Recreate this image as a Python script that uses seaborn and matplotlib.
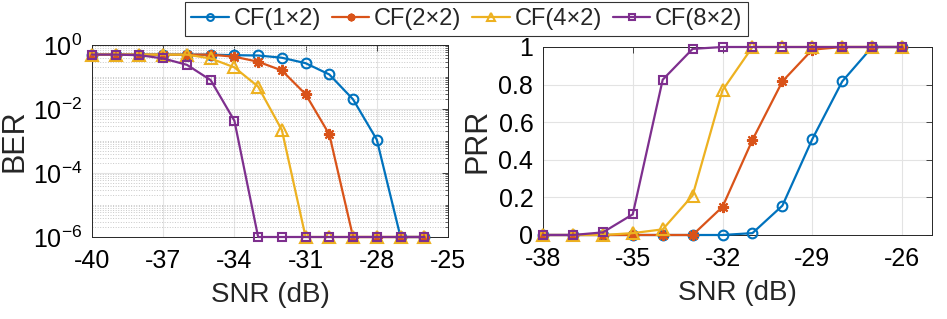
import numpy as np
import matplotlib
matplotlib.use('Agg')
import matplotlib.pyplot as plt
import seaborn as sns
from matplotlib.ticker import LogLocator, NullFormatter, FixedLocator

# Data
snr_ber = [-40, -39, -38, -37, -36, -35, -34, -33, -32, -31, -30, -29, -28, -27, -26]
ber_1x2 = [0.5, 0.5, 0.5, 0.5, 0.5, 0.5, 0.48, 0.47, 0.40, 0.27, 0.12, 0.020, 1.1e-3, 1e-6, 1e-6]
ber_2x2 = [0.5, 0.5, 0.5, 0.5, 0.5, 0.5, 0.43, 0.30, 0.16, 0.029, 1.6e-3, 1e-6, 1e-6, 1e-6, 1e-6]
ber_4x2 = [0.5, 0.5, 0.5, 0.5, 0.5, 0.38, 0.20, 0.05, 2.2e-3, 1e-6, 1e-6, 1e-6, 1e-6, 1e-6, 1e-6]
ber_8x2 = [0.5, 0.5, 0.48, 0.38, 0.24, 0.08, 4.3e-3, 1e-6, 1e-6, 1e-6, 1e-6, 1e-6, 1e-6, 1e-6, 1e-6]

snr_prr = [-38, -37, -36, -35, -34, -33, -32, -31, -30, -29, -28, -27, -26]
prr_1x2 = [0, 0, 0, 0, 0, 0, 0, 0.01, 0.156, 0.51, 0.817, 1.0, 1.0]
prr_2x2 = [0, 0, 0, 0, 0, 0, 0.15, 0.506, 0.817, 0.986, 1.0, 1.0, 1.0]
prr_4x2 = [0, 0, 0, 0.01, 0.03, 0.21, 0.77, 1.0, 1.0, 1.0, 1.0, 1.0, 1.0]
prr_8x2 = [0, 0, 0.014, 0.11, 0.826, 0.99, 1.0, 1.0, 1.0, 1.0, 1.0, 1.0, 1.0]

labels = ['CF(1×2)', 'CF(2×2)', 'CF(4×2)', 'CF(8×2)']
colors = ['#0072BD', '#D95319', '#EDB120', '#7E2F8E']
markers = ['o', (8, 2, 0), '^', 's']
msizes = [7, 8, 8, 5.5]

sns.set_style('white')
plt.rcParams['font.family'] = ['Liberation Sans', 'DejaVu Sans']
plt.rcParams['mathtext.fontset'] = 'custom'
plt.rcParams['mathtext.rm'] = 'Liberation Sans'
plt.rcParams['mathtext.it'] = 'Liberation Sans'
plt.rcParams['axes.unicode_minus'] = False

fig = plt.figure(figsize=(9.47, 3.19), dpi=100)
ax1 = fig.add_axes([92/947, 82/319, 356/947, 192/319])
ax2 = fig.add_axes([543/947, 84/319, 389/947, 188/319])

handles = []
for ys, lab, c, m, ms in zip([ber_1x2, ber_2x2, ber_4x2, ber_8x2], labels, colors, markers, msizes):
    sns.lineplot(x=snr_ber, y=ys, ax=ax1, color=c, marker=m, markersize=ms,
                 markerfacecolor='none', markeredgecolor=c, markeredgewidth=1.5,
                 linewidth=1.6, clip_on=False, zorder=3)
    handles.append(ax1.lines[-1])
for ys, c, m, ms in zip([prr_1x2, prr_2x2, prr_4x2, prr_8x2], colors, markers, msizes):
    sns.lineplot(x=snr_prr, y=ys, ax=ax2, color=c, marker=m, markersize=ms,
                 markerfacecolor='none', markeredgecolor=c, markeredgewidth=1.5,
                 linewidth=1.6, clip_on=False, zorder=3)

# left: BER
ax1.set_yscale('log')
ax1.set_xlim(-40, -25)
ax1.set_ylim(1e-6, 1)
ax1.set_xticks([-40, -37, -34, -31, -28, -25])
ax1.yaxis.set_major_locator(FixedLocator([1e-6, 1e-4, 1e-2, 1]))
ax1.yaxis.set_minor_locator(LogLocator(base=10, subs=np.arange(1, 10), numticks=20))
ax1.yaxis.set_minor_formatter(NullFormatter())
ax1.grid(True, which='major', color='#e3e3e3', linewidth=0.8)
ax1.grid(True, which='minor', axis='y', color='#c8c8c8', linestyle=':', linewidth=0.7)
ax1.set_xlabel('SNR (dB)', fontsize=20, labelpad=6)
ax1.set_ylabel('BER', fontsize=22, labelpad=2)

# right: PRR
ax2.set_xlim(-38, -25)
ax2.set_ylim(0, 1)
ax2.set_xticks([-38, -35, -32, -29, -26])
ax2.set_yticks([0, 0.2, 0.4, 0.6, 0.8, 1])
ax2.set_yticklabels(['0', '0.2', '0.4', '0.6', '0.8', '1'])
ax2.grid(True, which='major', color='#e3e3e3', linewidth=0.8)
ax2.set_xlabel('SNR (dB)', fontsize=20, labelpad=6)
ax2.set_ylabel('PRR', fontsize=22, labelpad=4)

for ax in (ax1, ax2):
    ax.set_axisbelow(True)
    ax.tick_params(axis='both', which='both', direction='in', top=True, right=True,
                   labelsize=18, colors='#262626', labelcolor='black')
    ax.tick_params(axis='x', which='major', pad=9)
    ax.tick_params(axis='y', which='major', pad=7)
    ax.tick_params(which='major', length=4, width=0.6)
    ax.tick_params(which='minor', length=2, width=0.5)
    for s in ax.spines.values():
        s.set_color('#262626')
        s.set_linewidth(0.7)

fig.legend(handles, labels, loc='upper center', bbox_to_anchor=(0.493, 1.0), ncol=4,
           fontsize=17, frameon=True, fancybox=False, edgecolor='black',
           handlelength=1.6, handletextpad=0.2, columnspacing=0.45,
           borderpad=0.25, borderaxespad=0.1, markerscale=0.7)
fig.legends[0].get_frame().set_linewidth(0.8)

fig.savefig('out.png', dpi=100)
